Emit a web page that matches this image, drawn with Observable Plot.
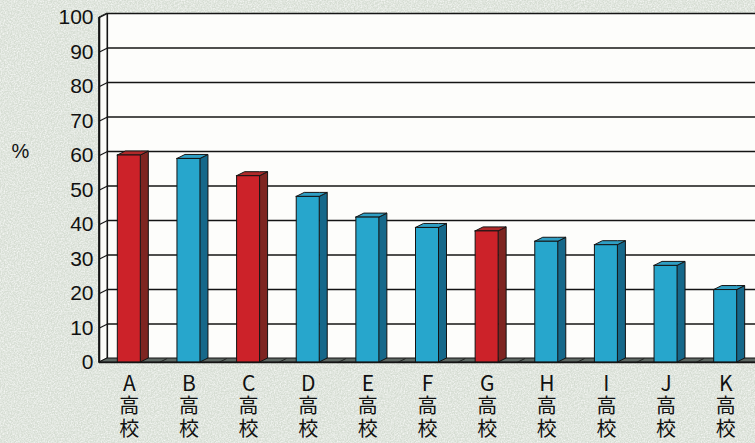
<!DOCTYPE html>
<html>
<head>
<meta charset="utf-8">
<script src="https://cdn.jsdelivr.net/npm/d3@7"></script>
<script src="https://cdn.jsdelivr.net/npm/@observablehq/plot@0.6"></script>
<style>
  html, body { margin: 0; padding: 0; }
  body {
    width: 755px; height: 443px; overflow: hidden;
    background-color: #d6ddd3;
    background-image: url("data:image/svg+xml;utf8,<svg xmlns='http://www.w3.org/2000/svg' width='200' height='200'><filter id='n'><feTurbulence type='fractalNoise' baseFrequency='0.7' numOctaves='2' stitchTiles='stitch'/><feColorMatrix values='0 0 0 0 1  0 0 0 0 1  0 0 0 0 1  1.4 0 0 0 -0.45'/></filter><rect width='200' height='200' filter='url(%23n)'/></svg>");
  }
  #chart { position: absolute; left: 0; top: 0; }
</style>
</head>
<body>
<div id="chart"></div>
<script>
// ---- data ----
const schools = ["A", "B", "C", "D", "E", "F", "G", "H", "I", "J", "K"];
const values = [60, 59, 54, 48, 42, 39, 38, 35, 34, 28, 21];
const highlighted = ["A", "C", "G"]; // red bars
const yTicks = [0, 10, 20, 30, 40, 50, 60, 70, 80, 90, 100];
const suffix = "高校";

// ---- styling constants ----
const W = 755, H = 443;
const mL = 99, mR = 0, mT = 17, mB = 81;
const depthPx = 8, risePx = 4, halfBarPx = 11.5;
const pxPerX = (W - mL - mR) / schools.length;
const pxPerY = (H - mT - mB) / 100;
const DX = depthPx / pxPerX, DY = risePx / pxPerY, HB = halfBarPx / pxPerX;
const N = schools.length;
const ink = "#141414";
const pal = {
  red: {front: "#cc2229", side: "#7e2521", top: "#b02a2a"},
  blue: {front: "#27a6cc", side: "#16688a", top: "#2f9fc4"}
};

const bars = schools.map((s, i) => {
  const c = highlighted.includes(s) ? pal.red : pal.blue;
  const xc = i + 0.5;
  return {school: s, value: values[i], xl: xc - HB, xr: xc + HB, xc, c};
});
const sidePts = bars.flatMap(b => [
  {id: b.school, x: b.xr, y1: 0, y2: b.value, c: b.c.side},
  {id: b.school, x: b.xr + DX, y1: DY, y2: b.value + DY, c: b.c.side}
]);
const topPts = bars.flatMap(b => [
  {id: b.school, x: b.xl, y1: b.value, y2: b.value, c: b.c.top},
  {id: b.school, x: b.xl + DX, y1: b.value, y2: b.value + DY, c: b.c.top},
  {id: b.school, x: b.xr, y1: b.value, y2: b.value + DY, c: b.c.top},
  {id: b.school, x: b.xr + DX, y1: b.value + DY, y2: b.value + DY, c: b.c.top}
]);
const floorPts = [
  {x: 0, y1: 0, y2: 0},
  {x: DX, y1: 0, y2: DY},
  {x: N, y1: 0, y2: DY},
  {x: N + DX, y1: DY, y2: DY}
];
const leftWall = [
  {x: 0, y1: 0, y2: 100},
  {x: DX, y1: DY, y2: 100 + DY}
];
const floorTicks = d3.range(1, N);
const labelLines = [0, 1, 2];

const chart = Plot.plot({
  width: W, height: H,
  marginLeft: mL, marginRight: mR, marginTop: mT, marginBottom: mB,
  x: {domain: [0, N], axis: null},
  y: {domain: [0, 100], axis: null},
  style: {background: "transparent", overflow: "visible", fontFamily: "'Liberation Sans', Arial, sans-serif"},
  marks: [
    // back wall
    Plot.rect([0], {x1: DX, x2: N + DX, y1: DY, y2: 100 + DY, fill: "#fdfdfb"}),
    Plot.ruleY(yTicks.filter(t => t > 0), {x1: DX, x2: N + DX, y: t => t + DY, stroke: ink, strokeWidth: 1.6}),
    Plot.ruleX([DX], {y1: DY, y2: 100 + DY, stroke: ink, strokeWidth: 1.2}),
    // left wall
    Plot.areaY(leftWall, {x: "x", y1: "y1", y2: "y2", fill: "#fbfbf8", stroke: ink, strokeWidth: 1}),
    Plot.link(yTicks, {x1: 0, y1: t => t, x2: DX, y2: t => t + DY, stroke: ink, strokeWidth: 1.2}),
    // floor
    Plot.areaY(floorPts, {x: "x", y1: "y1", y2: "y2", fill: "#5d6762", stroke: ink, strokeWidth: 1}),
    Plot.link(floorTicks, {x1: d => d, y1: 0, x2: d => d + DX, y2: DY, stroke: "#222", strokeWidth: 1}),
    // bars: side, top, front
    Plot.areaY(sidePts, {x: "x", y1: "y1", y2: "y2", z: "id", fill: d => d.c, stroke: ink, strokeWidth: 1}),
    Plot.areaY(topPts, {x: "x", y1: "y1", y2: "y2", z: "id", fill: d => d.c, stroke: ink, strokeWidth: 1}),
    Plot.rect(bars, {x1: "xl", x2: "xr", y1: 0, y2: "value", fill: d => d.c.front, stroke: ink, strokeWidth: 1}),
    // front axes
    Plot.ruleX([0], {y1: 0, y2: 100, stroke: ink, strokeWidth: 1.6}),
    Plot.ruleY([0], {x1: 0, x2: N, stroke: ink, strokeWidth: 1.6}),
    // y tick labels
    Plot.axisY(yTicks, {tickSize: 0, tickPadding: 6, fontSize: 21, fill: "#111"}),
    // x labels: one text mark per line (letter, 高, 校)
    ...labelLines.map(k => Plot.text(bars, {
      x: "xc", y: 0,
      text: d => k === 0 ? d.school : suffix[k - 1],
      dy: 22 + k * 22.5, fontSize: k === 0 ? 21 : 20, fill: "#111",
      fontFamily: "'Noto Sans CJK JP', 'Liberation Sans', sans-serif"
    })),
    // unit label
    Plot.text(["%"], {x: 0, y: 60, dx: -79, dy: -4, fontSize: 20, fill: "#111"})
  ]
});
document.getElementById("chart").append(chart);
</script>
</body>
</html>
